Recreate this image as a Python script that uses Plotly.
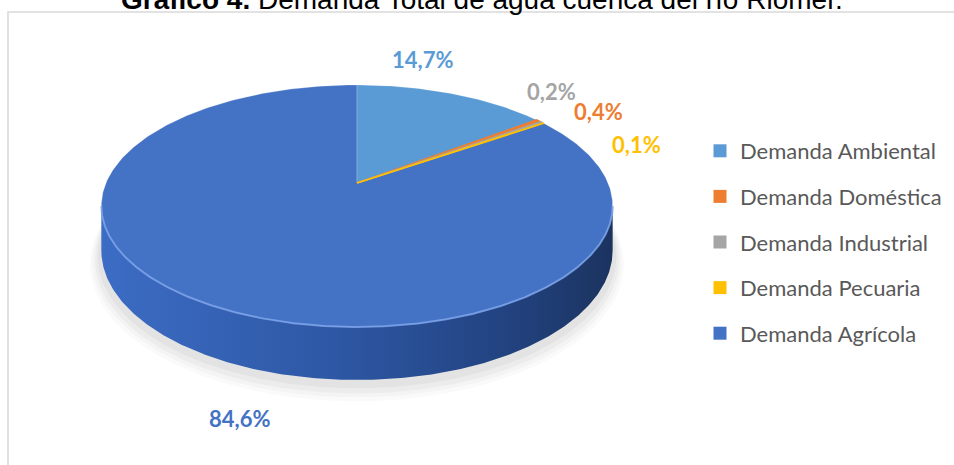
import numpy as np
import plotly.graph_objects as go

# ---------------- data ----------------
categories = ["Demanda Ambiental", "Demanda Doméstica", "Demanda Industrial",
              "Demanda Pecuaria", "Demanda Agrícola"]
values = [14.7, 0.4, 0.2, 0.1, 84.6]
colors = ["#5B9BD5", "#ED7D31", "#A5A5A5", "#FFC000", "#4472C4"]
title_bold = "Gráfico 4."
title_rest = "Demanda Total de agua cuenca del río Riomer."

# ---------------- style / geometry (pixels) ----------------
W, Hh = 954, 465
CX, CY = 357, 183          # pie vertex (projected centre)
A, B, G = 251, 116.6, 0.19  # horizontal / vertical radius, perspective factor
THICK = 43                 # extrusion depth
label_pos = [(422, 59), (598, 111), (551, 91), (636, 144), (239, 418)]


def proj(phi, drop=0.0, sa=1.0, sb=1.0):
    u, v = np.cos(phi), np.sin(phi)
    w = 1 + G * v
    return CX + sa * A * u / w, CY - sb * B * v / w + drop / w


fig = go.Figure()

# soft shadow
full = np.linspace(0, 2 * np.pi, 400)
for s, dy, al in [(1.045, 12, 0.018), (1.035, 10, 0.025), (1.025, 8, 0.03),
                  (1.015, 5, 0.035)]:
    x, y = proj(full, THICK + dy, s, s)
    fig.add_trace(go.Scatter(x=x, y=y, fill="toself", mode="lines",
                             line=dict(width=0), fillcolor=f"rgba(0,0,0,{al})",
                             showlegend=False, hoverinfo="skip"))

# side (front of the disc)
phiL = np.pi + np.arcsin(G)
phiR = 2 * np.pi - np.arcsin(G)
arc = np.linspace(phiL, phiR, 300)
xt, yt = proj(arc)
xb, yb = proj(arc[::-1], THICK)
fig.add_trace(go.Scatter(
    x=np.concatenate([xt, xb]), y=np.concatenate([yt, yb]),
    fill="toself", mode="lines", line=dict(width=0),
    fillgradient=dict(type="horizontal",
                      colorscale=[[0, "#3C6CC4"], [0.45, "#2E58A5"],
                                  [0.8, "#22427F"], [1, "#1B335F"]]),
    showlegend=False, hoverinfo="skip"))

# top slices
total = sum(values)
start = np.pi / 2
slices = []
for cat, val, col in zip(categories, values, colors):
    sweep = 2 * np.pi * val / total
    n = max(3, int(400 * val / total))
    ang = np.linspace(start, start - sweep, n)
    ax_, ay_ = proj(ang)
    slices.append((cat, col, val,
                   np.concatenate([[CX], ax_, [CX]]),
                   np.concatenate([[CY], ay_, [CY]])))
    start -= sweep

# draw big slice first, then the others on top
order = sorted(range(len(slices)), key=lambda i: -slices[i][2])
for i in order:
    cat, col, val, x, y = slices[i]
    small = val < 1
    fig.add_trace(go.Scatter(
        x=x, y=y, fill="toself", mode="lines", fillcolor=col,
        line=dict(color=col if small else "rgba(255,255,255,0.35)",
                  width=1.6 if small else 0.6),
        showlegend=False, hoverinfo="skip"))

# rim highlight on the front of the top face
xh, yh = proj(np.linspace(phiL, phiR, 300))
fig.add_trace(go.Scatter(x=xh, y=yh, mode="lines",
                         line=dict(color="rgba(120,160,232,0.85)", width=2),
                         showlegend=False, hoverinfo="skip"))

# legend entries
for cat, col in zip(categories, colors):
    fig.add_trace(go.Scatter(x=[None], y=[None], mode="markers", name=cat,
                             legendgroup=cat,
                             marker=dict(symbol="square", size=13, color=col)))

# data labels
for (lx, ly), val, col in zip(label_pos, values, colors):
    fig.add_annotation(x=lx, y=ly, xref="x", yref="y", showarrow=False,
                       text="<b>" + f"{val:.1f}".replace(".", ",") + "%</b>",
                       font=dict(family="Lato", size=22, color=col),
                       xanchor="center", yanchor="middle")

# title (partly cut by the top edge, as in the original)
fig.add_annotation(x=482 / W, y=1 + 0.7 / Hh, xref="paper", yref="paper",
                   showarrow=False, xanchor="center", yanchor="middle",
                   text=f"<b>{title_bold}</b> {title_rest}",
                   font=dict(family="Liberation Sans, Arial", size=28,
                             color="#000000"))

# frame
fig.add_shape(type="rect", xref="x", yref="y", x0=8, y0=12, x1=975, y1=480,
              line=dict(color="#D9D9D9", width=1.6), layer="above")

fig.update_layout(
    width=W, height=Hh, margin=dict(l=0, r=0, t=0, b=0),
    paper_bgcolor="white", plot_bgcolor="white",
    xaxis=dict(range=[0, W], visible=False, fixedrange=True),
    yaxis=dict(range=[Hh, 0], visible=False, fixedrange=True),
    hovermode=False,
    showlegend=True,
    legend=dict(x=700 / W, y=1 - 130 / Hh, xanchor="left", yanchor="top",
                traceorder="grouped", tracegroupgap=14,
                font=dict(family="Lato", size=22, color="#595959"),
                bgcolor="rgba(0,0,0,0)"),
)

fig.write_html("out.html")
